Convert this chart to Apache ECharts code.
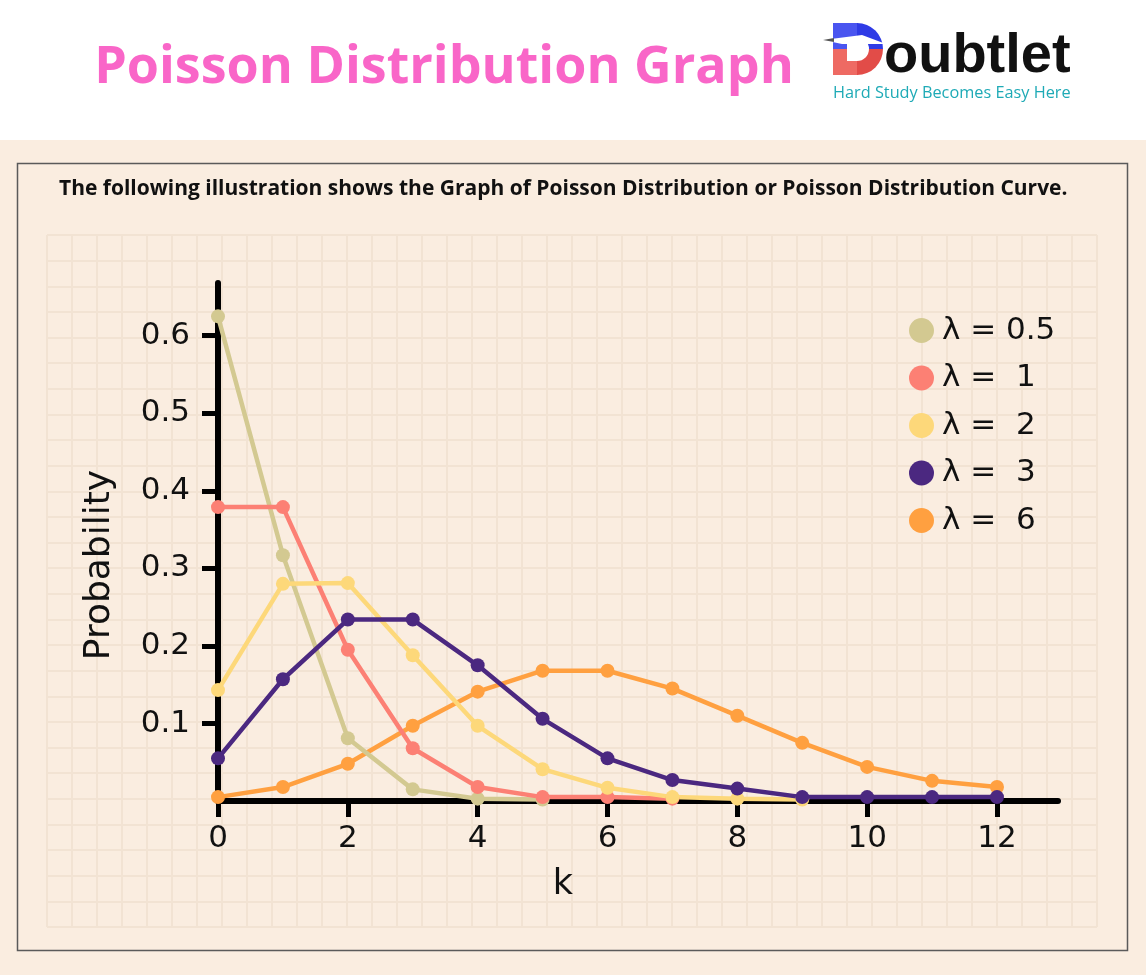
<!DOCTYPE html>
<html>
<head>
<meta charset="utf-8">
<script src="https://cdn.jsdelivr.net/npm/echarts@6/dist/echarts.min.js"></script>
<style>
html,body{margin:0;padding:0;background:#fff;}
#c{width:1146px;height:975px;}
</style>
</head>
<body>
<div id="c"></div>
<script>
// ---- data ----
const kValues = [0,1,2,3,4,5,6,7,8,9,10,11,12];
const seriesNames = ['λ = 0.5', 'λ =  1', 'λ =  2', 'λ =  3', 'λ =  6'];
const lambda05 = [0.625, 0.317, 0.081, 0.015, 0.003, 0.002];
const lambda1  = [0.379, 0.379, 0.195, 0.068, 0.018, 0.005, 0.005, 0.003];
const lambda2  = [0.143, 0.280, 0.281, 0.188, 0.097, 0.041, 0.017, 0.005, 0.003, 0.002];
const lambda3  = [0.055, 0.157, 0.234, 0.234, 0.175, 0.106, 0.055, 0.027, 0.016, 0.005, 0.005, 0.005, 0.005];
const lambda6  = [0.005, 0.018, 0.048, 0.097, 0.141, 0.168, 0.168, 0.145, 0.110, 0.075, 0.044, 0.026, 0.018];
const xTickLabels = [0, 2, 4, 6, 8, 10, 12];
const yTickLabels = [0.1, 0.2, 0.3, 0.4, 0.5, 0.6];

const colors = {
  'λ = 0.5': '#D3C991',
  'λ =  1': '#FC8074',
  'λ =  2': '#FDD87A',
  'λ =  3': '#4B2880',
  'λ =  6': '#FFA040'
};
const valuesByName = {
  'λ = 0.5': lambda05, 'λ =  1': lambda1, 'λ =  2': lambda2, 'λ =  3': lambda3, 'λ =  6': lambda6
};
const drawOrder = ['λ =  6', 'λ = 0.5', 'λ =  1', 'λ =  2', 'λ =  3'];

const FONT = "'DejaVu Sans', 'Noto Sans', sans-serif";
const chart = echarts.init(document.getElementById('c'), null, {renderer: 'canvas'});

const series = drawOrder.map(name => ({
  name: name,
  type: 'line',
  xAxisIndex: 1,
  yAxisIndex: 1,
  data: valuesByName[name].map((v, i) => [kValues[i], v]),
  symbol: 'circle',
  symbolSize: 14,
  lineStyle: {width: 4.5, color: colors[name]},
  itemStyle: {color: colors[name]},
  emphasis: {disabled: true},
  z: 3
}));

const GRIDLINE = '#F2E3D3';
const option = {
  animation: false,
  backgroundColor: '#FAEDE0',
  grid: [
    {left: 47, top: 235, width: 1050, height: 692, show: false},
    {left: 218, top: 283, width: 840, height: 518, show: false}
  ],
  xAxis: [
    {gridIndex: 0, type: 'value', min: 0, max: 42, interval: 1,
     axisLine: {show: false}, axisTick: {show: false}, axisLabel: {show: false},
     splitLine: {show: true, lineStyle: {color: GRIDLINE, width: 2}}, z: 0},
    {gridIndex: 1, type: 'value', min: 0, max: 12.94, interval: 2,
     axisLine: {show: true, onZero: true, lineStyle: {color: '#000', width: 6}},
     axisTick: {show: true, customValues: xTickLabels, length: 16, lineStyle: {color: '#000', width: 5}},
     axisLabel: {show: true, customValues: xTickLabels, margin: 22, fontSize: 31, fontFamily: FONT, color: '#111'},
     splitLine: {show: false}, z: 2}
  ],
  yAxis: [
    {gridIndex: 0, type: 'value', min: 0, max: 27, interval: 1, inverse: true,
     axisLine: {show: false}, axisTick: {show: false}, axisLabel: {show: false},
     splitLine: {show: true, lineStyle: {color: GRIDLINE, width: 2}}, z: 0},
    {gridIndex: 1, type: 'value', min: 0, max: 0.668, interval: 0.1,
     axisLine: {show: true, onZero: false, lineStyle: {color: '#000', width: 6}},
     axisTick: {show: true, customValues: yTickLabels, length: 16, lineStyle: {color: '#000', width: 5}},
     axisLabel: {show: true, customValues: yTickLabels, margin: 28, fontSize: 31, fontFamily: FONT, color: '#111',
                 formatter: v => String(Math.round(v * 10) / 10)},
     splitLine: {show: false}, z: 2}
  ],
  legend: {
    data: seriesNames,
    orient: 'vertical',
    left: 904,
    top: 310,
    itemWidth: 25,
    itemHeight: 25,
    itemGap: 16.5,
    icon: 'circle',
    selectedMode: false,
    textStyle: {fontSize: 31, lineHeight: 30, fontFamily: FONT, color: '#111', padding: [0, 0, 0, 3]}
  },
  series: series,
  graphic: [
    {type: 'rect', shape: {x: 0, y: 0, width: 1146, height: 140}, style: {fill: '#ffffff'}, z: 5},
    {type: 'rect', shape: {x: 17.5, y: 163.5, width: 1110, height: 787}, style: {fill: null, stroke: '#5a5a5a', lineWidth: 1.5}, z: 5},
    {type: 'text', x: 444, y: 68, z: 10, style: {text: 'Poisson Distribution Graph', fill: '#F966C8',
      font: "bold 52px 'Open Sans', sans-serif", align: 'center', verticalAlign: 'middle'}},
    // logo "D" built from simple shapes
    {type: 'rect', z: 10, shape: {x: 833, y: 23, width: 25, height: 26}, style: {fill: '#4A55F0'}},
    {type: 'sector', z: 10, shape: {cx: 857, cy: 49, r: 26, r0: 0, startAngle: -Math.PI / 2, endAngle: 0}, style: {fill: '#2F3BE6'}},
    {type: 'rect', z: 10, shape: {x: 833, y: 49, width: 25, height: 26}, style: {fill: '#EE6A63'}},
    {type: 'sector', z: 10, shape: {cx: 857, cy: 49, r: 26, r0: 0, startAngle: 0, endAngle: Math.PI / 2}, style: {fill: '#E24C48'}},
    {type: 'rect', z: 11, shape: {x: 847, y: 37, width: 10, height: 24}, style: {fill: '#ffffff'}},
    {type: 'sector', z: 11, shape: {cx: 857, cy: 49, r: 12, r0: 0, startAngle: -Math.PI / 2, endAngle: Math.PI / 2}, style: {fill: '#ffffff'}},
    {type: 'polygon', z: 12, shape: {points: [[823, 40], [862, 35], [886, 44], [842, 44]]}, style: {fill: '#ffffff'}},
    {type: 'polygon', z: 12, shape: {points: [[823, 40], [834, 38], [834, 42]]}, style: {fill: '#555555'}},
    {type: 'text', x: 884, y: 57, z: 10, style: {text: 'oubtlet', fill: '#111',
      font: "bold 56px 'Liberation Sans', sans-serif", align: 'left', verticalAlign: 'middle'}},
    {type: 'text', x: 833, y: 93, z: 10, style: {text: 'Hard Study Becomes Easy Here', fill: '#1EAAB6',
      font: "16.3px 'Open Sans', sans-serif", align: 'left', verticalAlign: 'middle'}},
    {type: 'text', x: 59, y: 189, z: 10, style: {text: 'The following illustration shows the Graph of Poisson Distribution or Poisson Distribution Curve.',
      fill: '#111', font: "bold 21px 'Open Sans', sans-serif", align: 'left', verticalAlign: 'middle'}},
    {type: 'text', x: 100, y: 565, z: 10, rotation: Math.PI / 2, style: {text: 'Probability', fill: '#111',
      font: "36px " + FONT, align: 'center', verticalAlign: 'middle'}},
    {type: 'text', x: 563, y: 885, z: 10, style: {text: 'k', fill: '#111',
      font: "35px " + FONT, align: 'center', verticalAlign: 'middle'}}
  ]
};
chart.setOption(option);
</script>
</body>
</html>
